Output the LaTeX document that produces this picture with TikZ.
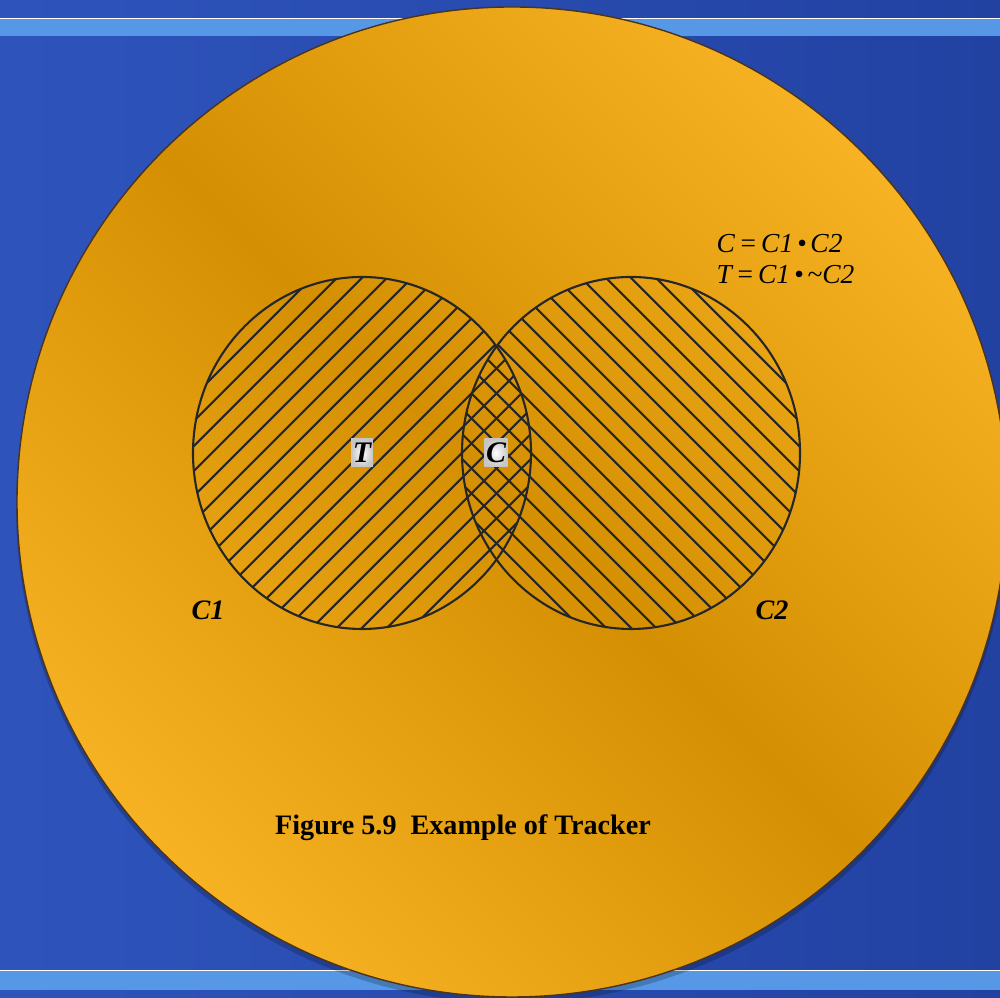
\documentclass[tikz,border=0pt]{standalone}
\usepackage{fontspec}
\setmainfont{Liberation Serif}
\usetikzlibrary{calc,positioning}
\definecolor{deepblue}{RGB}{46,84,188}
\definecolor{darkblue}{RGB}{34,66,162}
\definecolor{stripeblue}{RGB}{86,152,230}
\definecolor{lightamber}{RGB}{246,178,34}
\definecolor{darkamber}{RGB}{212,144,2}
\newcommand\opgap{\hspace{0.14em}}

\begin{document}
\begin{tikzpicture}[x=0.01cm,y=0.01cm,
  hatch/.style={line width=0.6pt,black!85},
  ring/.style={line width=0.6pt,black!85},
  tagbox/.style={inner color=white,outer color=gray!45,font=\fontsize{8.5}{10}\selectfont\bfseries\itshape,
    inner sep=0.5pt,minimum width=0.2cm,minimum height=0.28cm},
  setname/.style={font=\fontsize{8}{10}\selectfont\bfseries\itshape},
  formula/.style={font=\fontsize{7.8}{9}\selectfont\itshape,anchor=base west,inner sep=0pt}]
  \useasboundingbox (0,0) rectangle (1000,998);

  % background and stripes
  \shade[left color=deepblue,right color=darkblue] (0,0) rectangle (1000,998);
  \fill[stripeblue] (0,962) rectangle (1000,979);
  \draw[white,line width=0.5pt] (0,979.5) -- (1000,979.5);
  \fill[stripeblue] (0,8) rectangle (1000,27);
  \draw[white,line width=0.5pt] (0,27.5) -- (1000,27.5);

  % big disc
  \coordinate (O) at (512,496);
  \fill[black,opacity=0.2] ($(O)+(0,-5)$) circle (496);
  \shade[top color=lightamber,bottom color=lightamber,middle color=darkamber,shading angle=-45] (O) circle (495);
  \draw[black!60!brown,line width=0.4pt] (O) circle (495);

  % the two sets
  \coordinate (c1) at (362,545);
  \coordinate (c2) at (631,545);
  \begin{scope}
    \clip (c1) ellipse [x radius=169,y radius=176];
    \foreach \k in {-16,...,16}
      \draw[hatch] ({362+25*\k-250},{545-250}) -- ++(500,500);
  \end{scope}
  \begin{scope}
    \clip (c2) ellipse [x radius=169,y radius=176];
    \foreach \k in {-16,...,16}
      \draw[hatch] ({631+25*\k+250},{545-250}) -- ++(-500,500);
  \end{scope}
  \draw[ring] (c1) ellipse [x radius=169,y radius=176];
  \draw[ring] (c2) ellipse [x radius=169,y radius=176];

  \node[tagbox] (tag) at (c1) {T};
  \node[tagbox] (cross) at (496,545) {C};
  \node[setname] (n1) at (208,388) {C1};
  \node[setname] (n2) at (772,388) {C2};

  \node[formula] (eqc) at (716,745) {C\opgap=\opgap C1\opgap•\opgap C2};
  \node[formula] (eqt) at (716,714) {T\opgap=\opgap C1\opgap•\opgap\textasciitilde C2};

  \node[font=\fontsize{8}{10}\selectfont\bfseries] (caption) at (463,170) {Figure 5.9\ \ Example of Tracker};
\end{tikzpicture}
\end{document}
